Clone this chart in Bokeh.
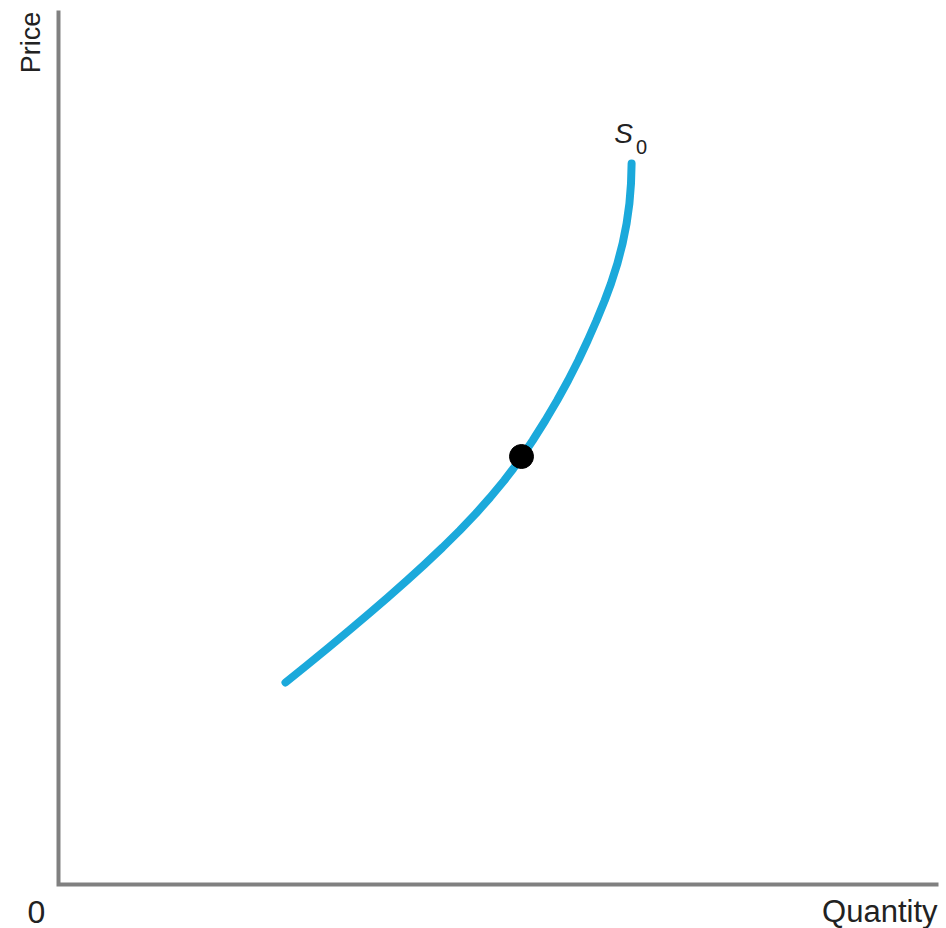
from bokeh.plotting import figure
from bokeh.models import Range1d, Label
from bokeh.embed import file_html
from bokeh.resources import INLINE
import math

# Supply curve S0 (quantity, price) in arbitrary units
quantity = [22.7, 24.81, 27.01, 29.05, 31.06, 32.92, 34.84, 36.6, 38.4, 40.12, 41.74, 43.16,
            44.57, 45.49, 46.35, 47.42, 48.68, 49.86, 50.96, 51.98, 52.92, 53.8, 54.62, 55.25,
            55.89, 56.41, 56.81, 57.09, 57.25, 57.31]
price = [20.2, 21.9, 23.7, 25.4, 27.1, 28.7, 30.4, 32.0, 33.7, 35.4, 37.1, 38.7, 40.4, 41.6,
         42.8, 44.4, 46.4, 48.4, 50.4, 52.4, 54.4, 56.4, 58.4, 60.1, 62.1, 64.1, 66.1, 68.1,
         70.1, 72.1]

# Marked point on the curve
point_q = [46.3]
point_p = [42.8]

# Axis extents (data units) and visible window
axis_x_end = 88.0
axis_y_end = 87.4
view_x = (-5.8, 88.8)
view_y = (-4.4, 88.4)

p = figure(width=946, height=928, output_backend="svg", toolbar_location=None,
           x_range=Range1d(*view_x), y_range=Range1d(*view_y),
           min_border=0, min_border_left=0, min_border_right=0,
           min_border_top=0, min_border_bottom=0)
p.background_fill_color = "white"
p.border_fill_color = "white"
p.outline_line_color = None
p.grid.visible = False
p.axis.visible = False

# Axes
p.line([0, 0, axis_x_end], [axis_y_end, 0, 0], line_color="#808080", line_width=4,
       line_join="miter")

# Supply curve and point
p.line(quantity, price, line_color="#1BA9DB", line_width=8, line_cap="round",
       line_join="round")
p.scatter(point_q, point_p, size=24, fill_color="black", line_color="black")

font = "Liberation Sans"
p.add_layout(Label(x=-2.2, y=-2.7, text="0", text_font=font, text_font_size="32px",
                   text_color="#222222", text_align="center", text_baseline="middle"))
p.add_layout(Label(x=87.9, y=-2.7, text="Quantity", text_font=font, text_font_size="31px",
                   text_color="#222222", text_align="right", text_baseline="middle"))
p.add_layout(Label(x=-2.8, y=84.2, text="Price", text_font=font, text_font_size="27px",
                   text_color="#222222", text_align="center", text_baseline="middle",
                   angle=math.pi / 2))
p.add_layout(Label(x=56.5, y=75.1, text="S", text_font=font, text_font_size="28px",
                   text_font_style="italic",
                   text_color="#222222", text_align="center", text_baseline="middle"))
p.add_layout(Label(x=58.3, y=73.8, text="0", text_font=font, text_font_size="20px",
                   text_color="#222222", text_align="center", text_baseline="middle"))

open("out.html", "w").write(file_html(p, INLINE))
